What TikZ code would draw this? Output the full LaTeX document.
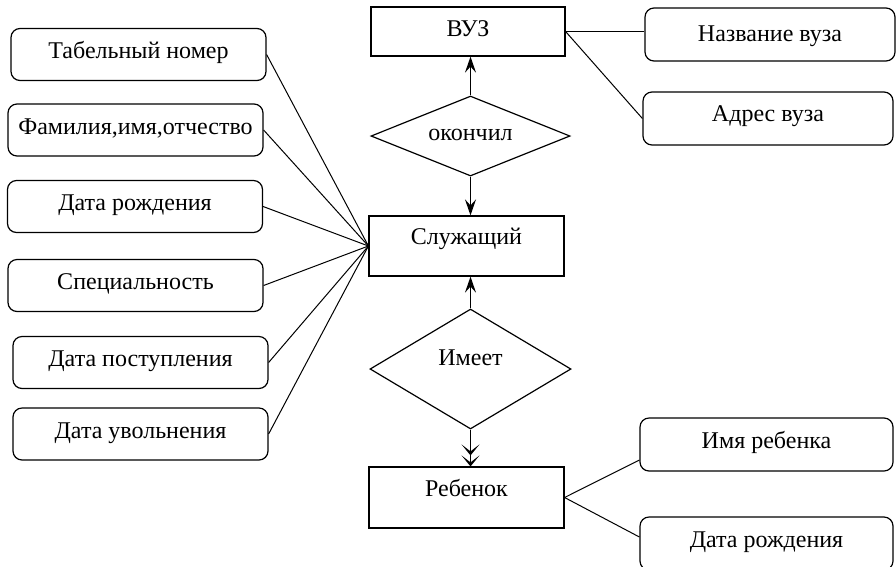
\documentclass[tikz,border=0pt]{standalone}
\usepackage{fontspec}
\setmainfont{Liberation Serif}
\newfontfamily\tnrfont{Liberation Serif}
\usetikzlibrary{shapes.geometric,arrows.meta}
\begin{document}
\begin{tikzpicture}[x=1pt,y=-1pt,
  txt/.style={font=\tnrfont\fontsize{24}{28}\selectfont},
  attr/.style={txt,draw,rounded corners=9pt,line width=1.2pt,inner sep=0pt,
    minimum width=255pt,minimum height=52pt,text height=16pt,text depth=8pt},
  ent/.style={txt,draw,line width=1.2pt,inner sep=0pt,minimum width=195pt,text height=16pt},
  rel/.style={txt,draw,diamond,line width=1.2pt,inner sep=0pt},
  link/.style={line width=1pt},
  arr/.style={line width=1.8pt,-{Stealth[length=16pt,width=11pt,inset=6pt]}},
  marr/.style={line width=1.8pt,-{Stealth[length=11pt,width=18pt,inset=7pt]Stealth[length=11pt,width=18pt,inset=7pt]}}
]
\useasboundingbox (0,0) rectangle (896,566);
% left attributes
\node[attr] (l1) at (138.5,54.5) {Табельный номер};
\node[attr] (l2) at (135.5,130) {Фамилия,имя,отчество};
\node[attr] (l3) at (135,206.5) {Дата рождения};
\node[attr] (l4) at (135.5,285.5) {Специальность};
\node[attr] (l5) at (140.5,362.5) {Дата поступления};
\node[attr] (l6) at (140.5,434) {Дата увольнения};
% entities
\node[ent,minimum width=194pt,minimum height=49pt,text depth=6pt] (vuz) at (468,31.5) {ВУЗ};
\node[ent,minimum height=60pt,text depth=20pt] (sl) at (466.5,246) {Служащий};
\node[ent,minimum height=61pt,text depth=19pt] (reb) at (466.5,497.5) {Ребенок};
% relationships
\node[rel,aspect=2.5,minimum width=199pt,minimum height=80pt,text height=9.4pt,text depth=0pt] (ok) at (470.5,136) {окончил};
\node[rel,aspect=1.7,minimum width=201pt,minimum height=120pt,text height=0pt,text depth=8pt] (im) at (470.5,369) {Имеет};
% right attributes
\node[attr,minimum width=250pt,minimum height=53pt,text depth=2pt] (nazv) at (770,34.5) {Название вуза};
\node[attr,minimum width=250pt,minimum height=53pt,text depth=10pt] (adr) at (768,118.5) {Адрес вуза};
\node[attr,minimum width=253pt,minimum height=53pt,text depth=9pt] (imya) at (766.5,444.5) {Имя ребенка};
\node[attr,minimum width=253pt,minimum height=53pt,text depth=9pt] (dr) at (766.5,543.5) {Дата рождения};
% connectors
\foreach \n in {l1,l2,l3,l4,l5,l6} \draw[link] (\n.east) -- (sl.west);
\draw[link] (vuz.east) -- (vuz.east -| nazv.west);
\draw[link] (vuz.east) -- (adr.west);
\draw[link] (reb.east) -- ([yshift=-15.5pt]imya.west);
\draw[link] (reb.east) -- ([yshift=6.5pt]dr.west);
\draw[arr] (ok.north) -- (ok.north |- vuz.south);
\draw[arr] (ok.south) -- (ok.south |- sl.north);
\draw[arr] (im.north) -- (im.north |- sl.south);
\draw[marr] (im.south) -- (im.south |- reb.north);
\end{tikzpicture}
\end{document}
